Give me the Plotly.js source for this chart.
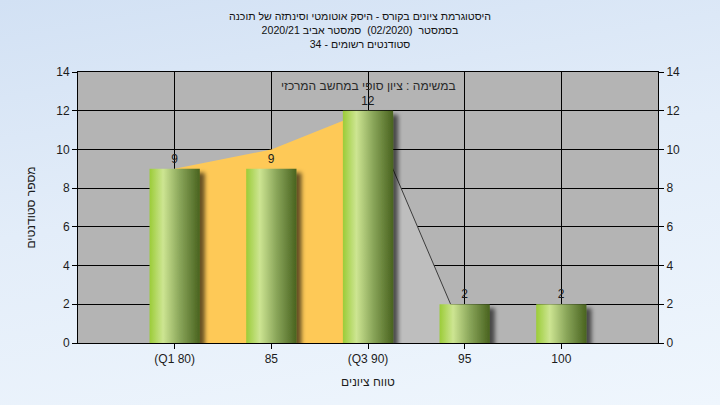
<!DOCTYPE html>
<html>
<head>
<meta charset="utf-8">
<script src="https://cdn.plot.ly/plotly-3.0.1.min.js"></script>
<style>
html,body{margin:0;padding:0;width:720px;height:405px;overflow:hidden;}
body{background:linear-gradient(170deg,#d2e1f4 0%,#e3edf9 45%,#eff6fd 100%);}
#chart{width:720px;height:405px;}
</style>
</head>
<body>
<div id="chart"></div>
<script>
// ---- data ----
const categories = ['(Q1 80)', '85', '(Q3 90)', '95', '100'];
const counts = [9, 9, 12, 2, 2];
const curveX1 = ['(Q1 80)', '85', '(Q3 90)'];
const curveY1 = [9, 10, 12];
const curveX2 = ['(Q3 90)', '95'];
const curveY2 = [12, 0.3];
const yTicks = [0, 2, 4, 6, 8, 10, 12, 14];

const titleLines = [
  'היסטוגרמת ציונים בקורס - היסק אוטומטי וסינתזה של תוכנה',
  'בסמסטר  (02/2020)  סמסטר אביב 2020/21',
  'סטודנטים רשומים - 34'
];
const noteText = 'במשימה : ציון סופי במחשב המרכזי';
const xTitle = 'טווח ציונים';
const yTitle = 'מספר סטודנטים';

const FONT = 'Liberation Sans, Arial, sans-serif';
const TXT = '#1c1c1c';

const traces = [
  {
    type: 'scatter', mode: 'lines', x: curveX1, y: curveY1,
    fill: 'tozeroy', fillcolor: '#fec957', line: {color: 'rgba(0,0,0,0)', width: 0},
    xaxis: 'x', yaxis: 'y', hoverinfo: 'skip', showlegend: false
  },
  {
    type: 'scatter', mode: 'lines', x: curveX2, y: curveY2,
    fill: 'tozeroy', fillcolor: '#bebebe', line: {color: '#3c3c3c', width: 1},
    xaxis: 'x', yaxis: 'y', hoverinfo: 'skip', showlegend: false
  },
  {
    type: 'bar', x: categories, y: counts, width: 0.52,
    marker: {color: '#8fb84a', line: {width: 0}},
    text: counts.map(String), textposition: 'outside', cliponaxis: false,
    textfont: {family: FONT, size: 12, color: TXT},
    xaxis: 'x2', yaxis: 'y2', showlegend: false
  }
];

const axBase = {
  tickfont: {family: FONT, size: 12, color: TXT},
  linecolor: '#000', linewidth: 1, ticks: 'outside', ticklen: 5, tickcolor: '#000'
};

const layout = {
  width: 720, height: 405,
  margin: {l: 78, r: 62, t: 72, b: 62},
  paper_bgcolor: 'rgba(0,0,0,0)',
  plot_bgcolor: '#b4b4b4',
  font: {family: FONT, color: TXT},
  showlegend: false,
  title: {
    text: titleLines.join('<br>'),
    font: {family: FONT, size: 10.6, color: '#111'},
    x: 0.5, xanchor: 'center', y: 1 - 20 / 405, yanchor: 'middle'
  },
  xaxis: Object.assign({}, axBase, {
    type: 'category', categoryarray: categories, range: [-1, 5],
    showgrid: true, gridcolor: '#000', gridwidth: 1,
    showline: true, mirror: true, zeroline: false,
    title: {text: xTitle, font: {family: FONT, size: 12, color: TXT}, standoff: 12}
  }),
  yaxis: Object.assign({}, axBase, {
    range: [0, 14], tickvals: yTicks, showgrid: true, gridcolor: '#000', gridwidth: 1,
    showline: true, zeroline: false,
    title: {text: yTitle, font: {family: FONT, size: 12, color: TXT}, standoff: 18}
  }),
  xaxis2: {
    type: 'category', categoryarray: categories, range: [-1, 5], overlaying: 'x',
    showgrid: false, showticklabels: false, showline: false, zeroline: false, ticks: ''
  },
  yaxis2: Object.assign({}, axBase, {
    overlaying: 'y', side: 'right', range: [0, 14], tickvals: yTicks,
    showgrid: false, showline: true, zeroline: false
  }),
  annotations: [{
    text: noteText, xref: 'x', yref: 'y', x: '(Q3 90)', y: 13.3,
    showarrow: false, font: {family: FONT, size: 12, color: '#2a2a2a'}
  }]
};

Plotly.newPlot('chart', traces, layout, {staticPlot: true, displayModeBar: false}).then(() => {
  const NS = 'http://www.w3.org/2000/svg';
  const svg = document.querySelector('#chart svg.main-svg');
  let defs = svg.querySelector('defs');
  if (!defs) { defs = document.createElementNS(NS, 'defs'); svg.insertBefore(defs, svg.firstChild); }
  const grad = document.createElementNS(NS, 'linearGradient');
  grad.setAttribute('id', 'barGrad');
  grad.setAttribute('x1', '0'); grad.setAttribute('y1', '0');
  grad.setAttribute('x2', '1'); grad.setAttribute('y2', '0');
  [['0', '#9bcc38'], ['0.27', '#cde592'], ['0.6', '#8aa65a'], ['1', '#49631f']].forEach(([o, c]) => {
    const s = document.createElementNS(NS, 'stop');
    s.setAttribute('offset', o); s.setAttribute('stop-color', c);
    grad.appendChild(s);
  });
  defs.appendChild(grad);
  const filt = document.createElementNS(NS, 'filter');
  filt.setAttribute('id', 'barShadow');
  filt.setAttribute('x', '-20%'); filt.setAttribute('y', '-20%');
  filt.setAttribute('width', '160%'); filt.setAttribute('height', '160%');
  const ds = document.createElementNS(NS, 'feDropShadow');
  ds.setAttribute('dx', '5'); ds.setAttribute('dy', '4'); ds.setAttribute('stdDeviation', '2');
  ds.setAttribute('flood-color', '#000'); ds.setAttribute('flood-opacity', '0.6');
  filt.appendChild(ds);
  defs.appendChild(filt);
  document.querySelectorAll('#chart .barlayer .point path').forEach(p => {
    p.style.fill = 'url(#barGrad)';
    p.setAttribute('filter', 'url(#barShadow)');
  });
});
</script>
</body>
</html>
